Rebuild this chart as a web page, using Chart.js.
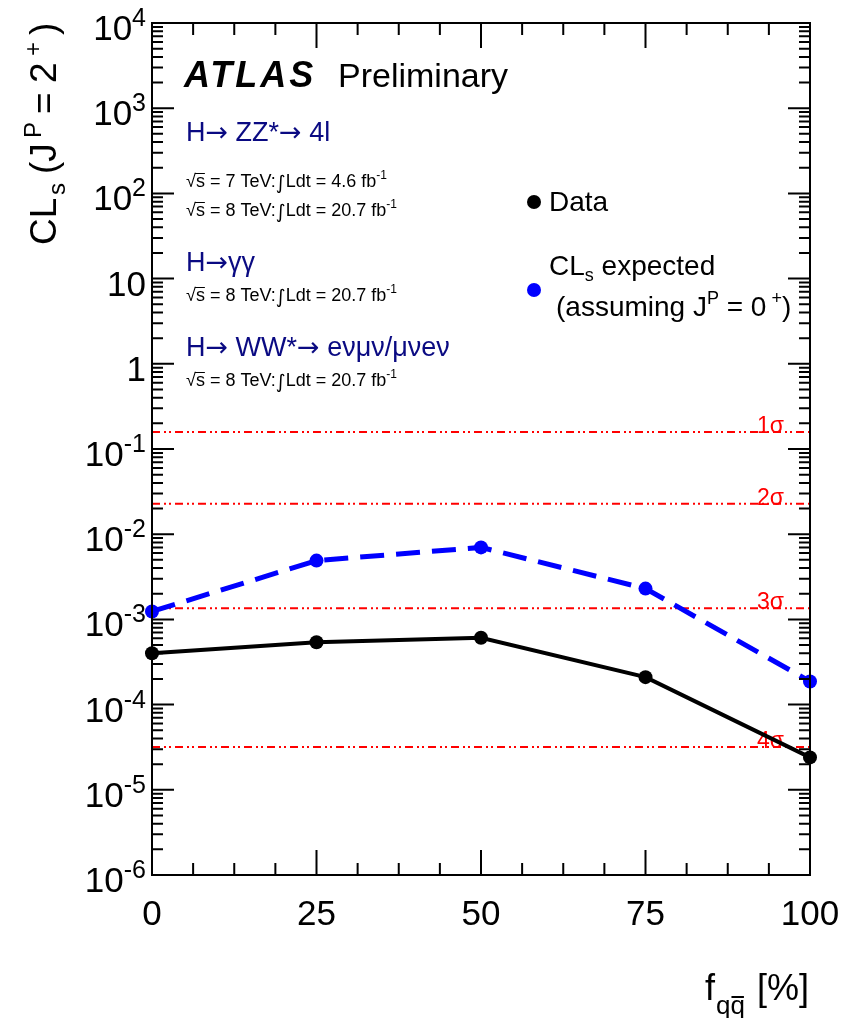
<!DOCTYPE html>
<html>
<head>
<meta charset="utf-8">
<script src="https://cdn.jsdelivr.net/npm/chart.js@4.4.1/dist/chart.umd.min.js"></script>
<style>
  html, body { margin: 0; padding: 0; background: #fff; }
  canvas { display: block; }
</style>
</head>
<body>
<canvas id="clsChart" width="859" height="1018"></canvas>
<script>
// values
const fqq = [0, 25, 50, 75, 100];
const clsObserved = [4.0e-4, 5.4e-4, 6.1e-4, 2.1e-4, 2.4e-5];
const clsExpected = [1.24e-3, 4.9e-3, 7.0e-3, 2.3e-3, 1.87e-4];
const sigmaValues = [0.1587, 0.02275, 0.00135, 3.17e-5];
const sigmaNames = ['1σ', '2σ', '3σ', '4σ'];
const xTickValues = [0, 25, 50, 75, 100];
const yDecades = [-6, -5, -4, -3, -2, -1, 0, 1, 2, 3, 4];

const FONT = '"Liberation Sans", Arial, Helvetica, sans-serif';
const SYM = '"DejaVu Sans", sans-serif';
const NAVY = '#0a0a82';

const font = (size, style, family) => (style ? style + ' ' : '') + size + 'px ' + (family || FONT);

// draw text made of pieces: [text, size, dy, style, family]
function richText(ctx, x, y, parts, align, color) {
  let w = 0;
  parts.forEach(p => { ctx.font = font(p[1], p[3], p[4]); w += ctx.measureText(p[0]).width; });
  let cx = align === 'right' ? x - w : align === 'center' ? x - w / 2 : x;
  ctx.fillStyle = color || '#000';
  ctx.textAlign = 'left';
  ctx.textBaseline = 'alphabetic';
  parts.forEach(p => {
    ctx.font = font(p[1], p[3], p[4]);
    ctx.fillText(p[0], cx, y + (p[2] || 0));
    cx += ctx.measureText(p[0]).width;
  });
  return w;
}

function lumiLine(ctx, x, y, energy, lumi) {
  richText(ctx, x, y, [
    ['√s = ' + energy + ' TeV:', 18],
    ['∫', 19, 2, '', SYM],
    ['Ldt = ' + lumi + ' fb', 18],
    ['-1', 12, -8],
  ], 'left', '#000');
  // bar of the root over s
  ctx.font = font(18);
  const wr = ctx.measureText('√').width;
  const ws = ctx.measureText('s').width;
  ctx.fillRect(x + wr - 1, y - 14, ws + 1, 1);
}

const arrow = size => ['→', size, 0, '', SYM];

const framePlugin = {
  id: 'framePlugin',
  beforeDatasetsDraw(chart) {
    const ctx = chart.ctx;
    const y = chart.scales.y;
    ctx.save();
    // sigma labels
    ctx.fillStyle = '#ff0000';
    ctx.font = font(23);
    ctx.textAlign = 'left';
    ctx.textBaseline = 'alphabetic';
    sigmaValues.forEach((v, i) => {
      ctx.fillText(sigmaNames[i], 757, y.getPixelForValue(v) + 1);
    });
    ctx.restore();
  },
  afterDraw(chart) {
    const ctx = chart.ctx;
    const a = chart.chartArea;
    const xs = chart.scales.x, ys = chart.scales.y;
    ctx.save();
    ctx.strokeStyle = '#000';
    ctx.lineWidth = 2;
    ctx.strokeRect(a.left, a.top, a.right - a.left, a.bottom - a.top);

    ctx.beginPath();
    // y ticks (log), left and right, pointing inwards
    yDecades.forEach(e => {
      const base = Math.pow(10, e);
      const py = ys.getPixelForValue(base);
      ctx.moveTo(a.left, py); ctx.lineTo(a.left + 22, py);
      ctx.moveTo(a.right, py); ctx.lineTo(a.right - 22, py);
      if (e < 4) {
        for (let m = 2; m <= 9; m++) {
          const pm = ys.getPixelForValue(m * base);
          ctx.moveTo(a.left, pm); ctx.lineTo(a.left + 11, pm);
          ctx.moveTo(a.right, pm); ctx.lineTo(a.right - 11, pm);
        }
      }
    });
    // x ticks, bottom and top
    for (let v = 0; v <= 100; v += 6.25) {
      const px = xs.getPixelForValue(v);
      const len = xTickValues.includes(v) ? 25 : 12;
      ctx.moveTo(px, a.bottom); ctx.lineTo(px, a.bottom - len);
      ctx.moveTo(px, a.top); ctx.lineTo(px, a.top + len);
    }
    ctx.stroke();

    // y tick labels
    yDecades.forEach(e => {
      const py = ys.getPixelForValue(Math.pow(10, e)) + 17;
      if (e === 0) richText(ctx, 146, py, [['1', 35]], 'right');
      else if (e === 1) richText(ctx, 146, py, [['10', 35]], 'right');
      else richText(ctx, 146, py, [['10', 35], [String(e), 25, -14]], 'right');
    });
    // x tick labels
    xTickValues.forEach(v => {
      richText(ctx, xs.getPixelForValue(v), 925, [[String(v), 35]], 'center');
    });

    // x title
    ctx.fillStyle = '#000';
    ctx.font = font(36);
    ctx.textAlign = 'left';
    ctx.fillText('f', 705, 1000);
    ctx.font = font(26);
    ctx.fillText('qq', 716, 1014);
    const qw = ctx.measureText('q').width;
    ctx.fillRect(716 + qw + 1, 996, qw - 2, 2);
    ctx.font = font(36);
    ctx.textAlign = 'right';
    ctx.fillText('[%]', 809, 1000);

    // y title, rotated
    ctx.save();
    ctx.translate(56, 245);
    ctx.rotate(-Math.PI / 2);
    ctx.textAlign = 'left';
    const yt = [['CL', 37, 0, 0], ['s', 24, 9, 50], ['(J', 37, 0, 71], ['P', 24, -15, 107],
                ['=', 37, 0, 131], ['2', 37, 0, 162], ['+', 24, -15, 189], [')', 37, 0, 210]];
    yt.forEach(p => { ctx.font = font(p[1]); ctx.fillText(p[0], p[3], p[2]); });
    ctx.restore();

    // ATLAS label
    ctx.textAlign = 'left';
    ctx.fillStyle = '#000';
    ctx.font = font(36, 'italic bold');
    ctx.letterSpacing = '3px';
    ctx.fillText('ATLAS', 184, 87);
    ctx.letterSpacing = '0px';
    ctx.font = font(34);
    ctx.fillText('Preliminary', 338, 87);

    // channel texts
    richText(ctx, 186, 141, [['H', 27], arrow(27), [' ZZ*', 27], arrow(27), [' 4l', 27]], 'left', NAVY);
    lumiLine(ctx, 186, 187, '7', '4.6');
    lumiLine(ctx, 186, 216, '8', '20.7');
    richText(ctx, 186, 271, [['H', 27], arrow(27), ['γγ', 27]], 'left', NAVY);
    lumiLine(ctx, 186, 301, '8', '20.7');
    richText(ctx, 186, 356, [['H', 27], arrow(27), [' WW*', 27], arrow(27), [' eνμν/μνeν', 27]], 'left', NAVY);
    lumiLine(ctx, 186, 386, '8', '20.7');

    // legend
    ctx.fillStyle = '#000';
    ctx.beginPath(); ctx.arc(534, 202, 7, 0, Math.PI * 2); ctx.fill();
    richText(ctx, 549, 211, [['Data', 28]], 'left');
    ctx.fillStyle = '#0000ff';
    ctx.beginPath(); ctx.arc(534, 290, 7, 0, Math.PI * 2); ctx.fill();
    richText(ctx, 549, 275, [['CL', 28], ['s', 18, 6], [' expected', 28]], 'left');
    richText(ctx, 556, 316, [['(assuming J', 28], ['P', 18, -12], [' = 0', 28], [' +', 18, -12], [')', 28]], 'left');
    ctx.restore();
  }
};

const datasets = [
  {
    label: 'Data',
    data: fqq.map((x, i) => ({ x: x, y: clsObserved[i] })),
    borderColor: '#000',
    backgroundColor: '#000',
    borderWidth: 4,
    pointRadius: 7,
    pointBorderWidth: 0,
    clip: false,
  },
  {
    label: 'CLs expected',
    data: fqq.map((x, i) => ({ x: x, y: clsExpected[i] })),
    borderColor: '#0000ff',
    backgroundColor: '#0000ff',
    borderWidth: 5,
    borderDash: [24, 12],
    pointRadius: 7,
    pointBorderWidth: 0,
    clip: false,
  },
];
sigmaValues.forEach((v, i) => {
  datasets.push({
    label: sigmaNames[i],
    data: [{ x: 0, y: v }, { x: 100, y: v }],
    borderColor: '#ff0000',
    borderWidth: 2,
    borderDash: [8, 4, 2, 3, 2, 4],
    pointRadius: 0,
  });
});

new Chart(document.getElementById('clsChart'), {
  type: 'line',
  data: { datasets: datasets },
  options: {
    responsive: false,
    animation: false,
    layout: { padding: { left: 152, right: 49, top: 23, bottom: 143 } },
    scales: {
      x: { type: 'linear', min: 0, max: 100, display: false },
      y: { type: 'logarithmic', min: 1e-6, max: 1e4, display: false },
    },
    plugins: {
      legend: { display: false },
      tooltip: { enabled: false },
    },
  },
  plugins: [framePlugin],
});
</script>
</body>
</html>
